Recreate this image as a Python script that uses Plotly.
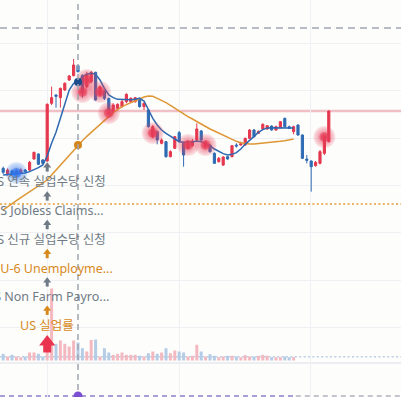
import plotly.graph_objects as go

# ---------------- data ----------------
idx = list(range(75))
opens = [660, 642, 652, 644, 646, 655, 655, 688, 703, 685,
         682, 855, 880, 872, 895, 925, 938, 968, 938, 905,
         920, 948, 880, 892, 870, 830, 840, 845, 860, 860,
         860, 870, 845, 835, 755, 770, 735, 740, 695, 720,
         767, 735, 720, 728, 745, 772, 725, 730, 705, 680,
         670, 695, 695, 730, 730, 730, 750, 775, 765, 778,
         778, 787, 775, 782, 810, 785, 770, 790, 760, 688,
         682, 668, 675, 705, 740]
highs = [665, 660, 656, 657, 660, 658, 682, 710, 705, 688,
         855, 905, 882, 902, 918, 940, 988, 970, 942, 950,
         952, 950, 908, 894, 872, 855, 855, 865, 885, 873,
         874, 872, 858, 837, 790, 772, 750, 742, 714, 757,
         772, 738, 744, 748, 795, 775, 742, 732, 708, 694,
         696, 697, 730, 735, 740, 752, 778, 778, 774, 795,
         790, 789, 788, 802, 812, 788, 788, 792, 762, 700,
         684, 682, 715, 760, 834]
lows = [642, 638, 640, 640, 643, 647, 652, 686, 670, 672,
        680, 850, 842, 842, 892, 922, 936, 948, 872, 900,
        915, 863, 875, 865, 832, 825, 837, 842, 855, 857,
        857, 842, 835, 782, 750, 732, 732, 692, 693, 718,
        738, 665, 718, 725, 742, 742, 722, 707, 673, 677,
        667, 686, 693, 722, 728, 728, 748, 752, 763, 776,
        776, 773, 773, 780, 783, 778, 762, 758, 688, 675,
        590, 665, 672, 700, 738]
closes = [648, 655, 644, 652, 655, 650, 678, 708, 672, 675,
          852, 872, 876, 900, 915, 937, 970, 950, 890, 942,
          948, 865, 905, 870, 835, 850, 852, 860, 882, 870,
          872, 845, 855, 785, 785, 745, 745, 695, 710, 755,
          740, 700, 740, 742, 778, 745, 738, 710, 675, 690,
          694, 688, 728, 727, 734, 750, 775, 755, 770, 792,
          788, 775, 785, 800, 785, 780, 785, 760, 690, 684,
          665, 678, 710, 755, 832]
volumes = [6700, 4000, 5700, 4000, 3300, 4000, 8000, 8000, 6700, 4000,
           12000, 72000, 16700, 20000, 16700, 14000, 20000, 18000, 12300, 9000,
           20500, 21000, 4000, 12300, 8000, 5700, 6700, 8000, 5700, 5700,
           5700, 4700, 4000, 7300, 9000, 6700, 8000, 12300, 7300, 10000,
           9000, 8000, 4000, 4700, 15700, 9000, 4000, 6300, 4700, 3300,
           4000, 4700, 4700, 4000, 3300, 5300, 4000, 4000, 4700, 5700,
           4700, 3300, 3300, 3300, 4000, 3300, 3300]
ma_short = [640, 641, 643, 644, 645, 646, 650, 655, 662, 670,
            697, 735, 768, 810, 855, 895, 915, 919, 935, 942,
            945, 942, 925, 900, 880, 872, 867, 866, 866, 866,
            867, 870, 862, 835, 810, 790, 775, 765, 757, 748,
            740, 738, 738, 739, 742, 740, 734, 728, 718, 710,
            704, 700, 702, 707, 718, 732, 745, 758, 768, 776,
            781, 782, 782, 781, 781, 781, 781]
ma_long = [535, 545, 555, 563, 572, 581, 590, 598, 606, 615,
           625, 640, 655, 670, 685, 700, 715, 730, 743, 756,
           768, 781, 793, 805, 818, 827, 836, 845, 851, 857,
           863, 869, 874, 877, 876, 870, 864, 857, 849, 840,
           831, 822, 815, 808, 800, 792, 785, 778, 772, 766,
           760, 752, 746, 741, 737, 734, 733, 733, 734, 735,
           736, 737, 739, 741, 743, 746, 748]

event_idx = 10
event_labels = ["US 연속 실업수당 신청", "US Jobless Claims...", "US 신규 실업수당 신청",
                "US U-6 Unemployme...", "US Non Farm Payro...", "US 실업률"]
event_kinds = ["grey", "grey", "grey", "orange", "grey", "orange"]
event_levels = [620, 533, 447, 360, 275, 190]

glow_idx = [19, 18, 22, 24, 34, 42, 46, 73]
glow_val = [925, 889, 889, 826, 766, 730, 730, 754]
blue_glow_idx = [3]
blue_glow_val = [646]

cross_idx = 17
level_dash = 1081
level_pink = 832
level_orange = 553
grid_y = [1036, 894, 751, 609, 467, 325, 183]
grid_x = [10.1, 40, 69.8]

# ---------------- styling ----------------
RED = "#e5374e"
BLUE = "#2e6bb4"
GREY_T = "#6f7a86"
ORANGE = "#d8891c"
col = {"grey": GREY_T, "orange": ORANGE}

n_vol = len(volumes)
vol_colors = ["#f4b8c0" if closes[i] >= opens[i] else "#b4cce6" for i in range(n_vol)]

fig = go.Figure()

fig.add_trace(go.Bar(x=idx[:n_vol], y=volumes, marker_color=vol_colors, marker_line_width=0,
                     width=0.68, xaxis="x", yaxis="y", hoverinfo="skip"))

fig.add_trace(go.Candlestick(
    x=idx, open=opens, high=highs, low=lows, close=closes,
    increasing=dict(line=dict(color=RED, width=1), fillcolor=RED),
    decreasing=dict(line=dict(color=BLUE, width=1), fillcolor=BLUE),
    whiskerwidth=0, xaxis="x", yaxis="y2", hoverinfo="skip"))

fig.add_trace(go.Scatter(x=idx[:len(ma_long)], y=ma_long, mode="lines",
                         line=dict(color="#de9634", width=1.5), xaxis="x", yaxis="y2"))
fig.add_trace(go.Scatter(x=idx[:len(ma_short)], y=ma_short, mode="lines",
                         line=dict(color="#2d68b0", width=1.5), xaxis="x", yaxis="y2"))


def glow(xs, ys, rgb):
    r, g, b = rgb
    fig.add_trace(go.Scatter(x=xs, y=ys, mode="markers", xaxis="x", yaxis="y2",
                             marker=dict(size=22, color=f"rgba({r},{g},{b},0.12)",
                                         gradient=dict(type="radial", color=f"rgba({r},{g},{b},0.8)"),
                                         line=dict(width=0))))
    fig.add_trace(go.Scatter(x=xs, y=ys, mode="markers", xaxis="x", yaxis="y2",
                             marker=dict(size=10, color=f"rgba({r},{g},{b},0.45)",
                                         gradient=dict(type="radial", color=f"rgba({r},{g},{b},1)"),
                                         line=dict(width=0))))


glow(glow_idx, glow_val, (230, 60, 88))
glow(blue_glow_idx, blue_glow_val, (45, 115, 235))

# crosshair dots
fig.add_trace(go.Scatter(x=[cross_idx], y=[ma_short[cross_idx]], mode="markers", xaxis="x", yaxis="y2",
                         marker=dict(size=8, color="#1d4c8c")))
fig.add_trace(go.Scatter(x=[cross_idx], y=[ma_long[cross_idx]], mode="markers", xaxis="x", yaxis="y2",
                         marker=dict(size=8, color="#d4861a")))

# event arrows (small) above each label
for lv, kind in zip(event_levels, event_kinds):
    c = col[kind]
    fig.add_trace(go.Scatter(x=[event_idx], y=[lv + 48], mode="markers", xaxis="x", yaxis="y2",
                             marker=dict(symbol="triangle-up", size=7, color=c, line=dict(width=0))))
    fig.add_trace(go.Scatter(x=[event_idx], y=[lv + 38.7], mode="markers", xaxis="x", yaxis="y2",
                             marker=dict(symbol="line-ns", size=4, color=c, line=dict(width=3, color=c))))
# big red arrow
fig.add_trace(go.Scatter(x=[event_idx], y=[event_levels[-1] - 51], mode="markers", xaxis="x", yaxis="y2",
                         marker=dict(symbol="triangle-up", size=14, color="#ea3550", line=dict(width=0))))
fig.add_trace(go.Scatter(x=[event_idx], y=[event_levels[-1] - 70.5], mode="markers", xaxis="x", yaxis="y2",
                         marker=dict(symbol="square", size=8, color="#ea3550", line=dict(width=0))))

# bottom time-scale marker
fig.add_trace(go.Scatter(x=[cross_idx], y=[-23], mode="markers", xaxis="x", yaxis="y2",
                         marker=dict(size=9, color="#7a4fd4")))

for lab, kind, lv in zip(event_labels, event_kinds, event_levels):
    fig.add_annotation(x=event_idx, y=lv, xref="x", yref="y2", text=lab, showarrow=False,
                       xanchor="center", yanchor="middle",
                       font=dict(family="Noto Sans, Noto Sans CJK KR, sans-serif", size=12.5, color=col[kind]))

shapes = [
    dict(type="line", xref="paper", x0=0, x1=1, yref="y2", y0=level_dash, y1=level_dash,
         line=dict(color="#a0a5b1", width=1.3, dash="7px,5px"), layer="below"),
    dict(type="line", xref="paper", x0=0, x1=1, yref="y2", y0=level_pink, y1=level_pink,
         line=dict(color="#f1bfc6", width=2.5), layer="below"),
    dict(type="line", xref="paper", x0=0, x1=1, yref="y2", y0=level_orange, y1=level_orange,
         line=dict(color="#e39a35", width=1.4, dash="2px,2.4px"), layer="below"),
    dict(type="line", xref="paper", x0=0, x1=1, yref="y2", y0=95, y1=95,
         line=dict(color="#bcd0e6", width=1.5, dash="2px,2.4px"), layer="below"),
    dict(type="line", xref="paper", x0=0, x1=1, yref="y2", y0=76, y1=76,
         line=dict(color="#eceef2", width=2), layer="below"),
    dict(type="line", xref="x", x0=cross_idx, x1=cross_idx, yref="y2", y0=-5, y1=1165,
         line=dict(color="#9ea4ae", width=1.5, dash="6px,4px")),
    dict(type="line", xref="x", x0=-0.727, x1=66.5, yref="y2", y0=-23, y1=-23,
         line=dict(color="#a99fd6", width=2, dash="5px,4px"), layer="below"),
    dict(type="line", xref="x", x0=66.5, x1=90.41, yref="y2", y0=-23, y1=-23,
         line=dict(color="#c4c5cc", width=2, dash="5px,4px"), layer="below"),
]

fig.update_layout(
    width=401, height=397, autosize=False,
    margin=dict(l=0, r=0, t=0, b=0, pad=0),
    paper_bgcolor="#fdfdfb", plot_bgcolor="#fdfdfb",
    showlegend=False, hovermode=False,
    shapes=shapes,
    xaxis=dict(range=[-0.727, 90.41], showticklabels=False, ticks="", zeroline=False,
               tickvals=grid_x, showgrid=True, gridcolor="#eef0f4", gridwidth=1,
               rangeslider=dict(visible=False), fixedrange=True),
    yaxis=dict(range=[-36500, 360500], visible=False, showgrid=False, fixedrange=True),
    yaxis2=dict(range=[-26, 1165], overlaying="y", showticklabels=False, ticks="", zeroline=False,
                tickvals=grid_y, showgrid=True, gridcolor="#eef0f4", gridwidth=1, fixedrange=True),
)

fig.write_html("out.html")
